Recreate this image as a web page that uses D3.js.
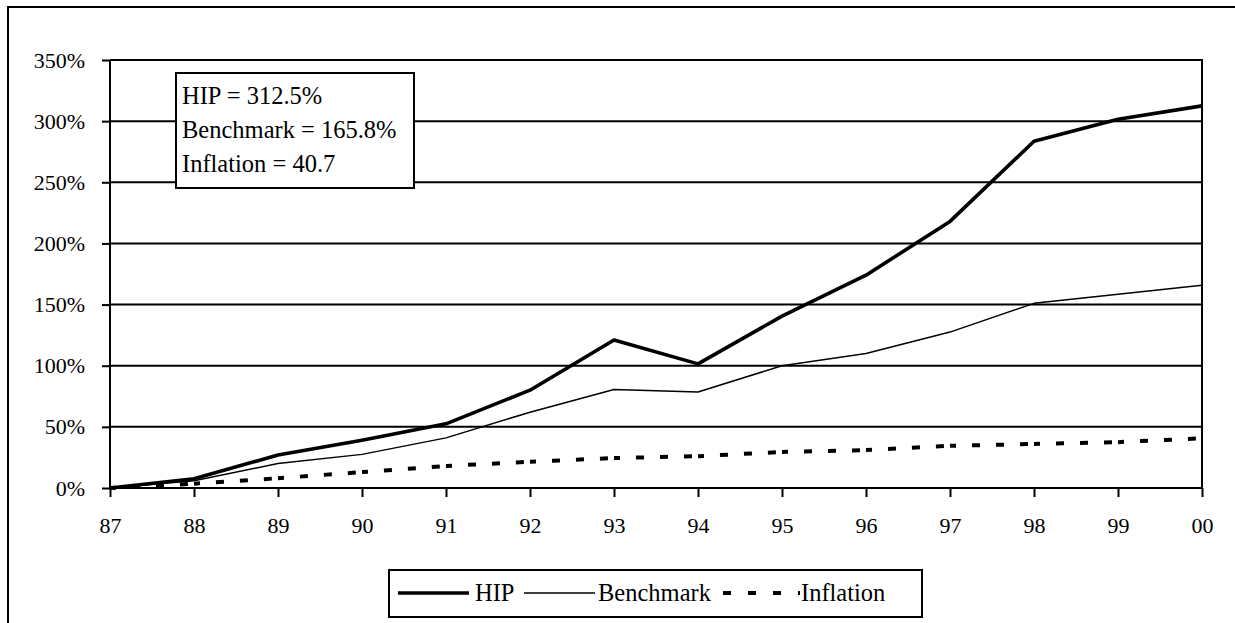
<!DOCTYPE html>
<html>
<head>
<meta charset="utf-8">
<script src="https://cdn.jsdelivr.net/npm/d3@7"></script>
<style>
  html body svg#chart text, html body svg#chart g text { font-family: "Liberation Serif", "Times New Roman", Tinos, serif !important; }
</style>
</head>
<body style="margin:0">
<svg id="chart" width="1235" height="623"></svg>
<script>
// ---- data ----
const years = ["87","88","89","90","91","92","93","94","95","96","97","98","99","00"];
const hip = [0, 7.5, 27, 39, 52.5, 80, 121, 101.5, 140.5, 174, 218, 283.5, 301.5, 312.5];
const benchmark = [0, 6, 20, 27.5, 41, 62, 80.5, 78.5, 100, 110, 127.5, 151, 158.5, 165.8];
const inflation = [0, 3.5, 8, 13, 18, 21.5, 24.5, 26, 29.5, 31, 34.5, 36, 37.5, 40.7];
const yTicks = [0, 50, 100, 150, 200, 250, 300, 350];
const seriesNames = ["HIP", "Benchmark", "Inflation"];
const boxLines = ["HIP = 312.5%", "Benchmark = 165.8%", "Inflation = 40.7"];

// ---- layout ----
const FONT = '"Liberation Serif", "Times New Roman", Tinos, serif';
const W = 1235, H = 623;
const plot = { left: 110, right: 1202, top: 60, bottom: 488 };
const svg = d3.select("#chart").attr("font-family", FONT);

svg.append("rect").attr("width", W).attr("height", H).attr("fill", "#fff");
// outer chart border (extends past the window on right/bottom)
svg.append("rect").attr("x", 8).attr("y", 7).attr("width", 1260).attr("height", 640)
  .attr("fill", "none").attr("stroke", "#000").attr("stroke-width", 2);

const x = d3.scalePoint().domain(years).range([plot.left, plot.right]);
const y = d3.scaleLinear().domain([0, 350]).range([plot.bottom, plot.top]);

// gridlines
svg.append("g").selectAll("line").data(yTicks).join("line")
  .attr("x1", plot.left).attr("x2", plot.right)
  .attr("y1", d => y(d)).attr("y2", d => y(d))
  .attr("stroke", "#000").attr("stroke-width", 2);
// right border of plot
svg.append("line").attr("x1", plot.right).attr("x2", plot.right)
  .attr("y1", plot.top - 1).attr("y2", plot.bottom)
  .attr("stroke", "#000").attr("stroke-width", 2);

// y axis
const yAxis = svg.append("g").attr("transform", `translate(${plot.left},0)`)
  .call(d3.axisLeft(y).tickValues(yTicks).tickSize(8).tickPadding(17)
    .tickFormat(d => d + "%"));
// x axis
const xAxis = svg.append("g").attr("transform", `translate(0,${plot.bottom})`)
  .call(d3.axisBottom(x).tickSize(9).tickPadding(20));
[yAxis, xAxis].forEach(g => {
  g.attr("font-family", FONT).attr("font-size", 22);
  g.select(".domain").attr("stroke", "#000").attr("stroke-width", 2);
  g.selectAll(".tick line").attr("stroke", "#000").attr("stroke-width", 2);
  g.selectAll(".tick text").attr("fill", "#000")
    .style("font-family", FONT, "important").style("font-size", "22px");
});
yAxis.select(".domain").attr("d", `M0,${plot.bottom}V${plot.top}`);
xAxis.select(".domain").attr("d", `M${plot.left},0H${plot.right}`);

// lines
const line = d3.line().x((d, i) => x(years[i])).y(d => y(d));
svg.append("path").datum(benchmark).attr("d", line)
  .attr("fill", "none").attr("stroke", "#000").attr("stroke-width", 1.5)
  .attr("stroke-linejoin", "round");
svg.append("path").datum(hip).attr("d", line)
  .attr("fill", "none").attr("stroke", "#000").attr("stroke-width", 3.6)
  .attr("stroke-linejoin", "round");
// inflation: dashes restart at every segment (as in source)
const segs = d3.pairs(inflation.map((v, i) => [years[i], v]));
const segLine = d3.line().x(d => x(d[0])).y(d => y(d[1]));
svg.append("g").selectAll("path").data(segs).join("path")
  .attr("d", segLine)
  .attr("fill", "none").attr("stroke", "#000").attr("stroke-width", 4)
  .attr("stroke-dasharray", "8,16").attr("stroke-dashoffset", 2);

// text box
const tb = { x: 176, y: 73, w: 238, h: 115 };
svg.append("rect").attr("x", tb.x).attr("y", tb.y).attr("width", tb.w).attr("height", tb.h)
  .attr("fill", "#fff").attr("stroke", "#000").attr("stroke-width", 2);
svg.append("g").selectAll("text").data(boxLines).join("text")
  .attr("x", tb.x + 6).attr("y", (d, i) => tb.y + 31 + i * 34)
  .style("font-family", FONT, "important").style("font-size", "24.5px")
  .attr("fill", "#000").text(d => d);

// legend
const lg = { x: 389, y: 570, w: 533, h: 47 };
svg.append("rect").attr("x", lg.x).attr("y", lg.y).attr("width", lg.w).attr("height", lg.h)
  .attr("fill", "#fff").attr("stroke", "#000").attr("stroke-width", 2);
const ly = lg.y + 23;
const legendItems = [
  { name: seriesNames[0], x1: 398, x2: 469, tx: 475, sw: 3.6, dash: null },
  { name: seriesNames[1], x1: 524, x2: 595, tx: 598, sw: 1.5, dash: null },
  { name: seriesNames[2], x1: 723, x2: 800, tx: 801, sw: 4, dash: "8,17" }
];
const li = svg.append("g").selectAll("g").data(legendItems).join("g");
li.append("line").attr("x1", d => d.x1).attr("x2", d => d.x2).attr("y1", ly).attr("y2", ly)
  .attr("stroke", "#000").attr("stroke-width", d => d.sw)
  .attr("stroke-dasharray", d => d.dash);
li.append("text").attr("x", d => d.tx).attr("y", ly + 8)
  .style("font-family", FONT, "important").style("font-size", "24.5px")
  .attr("fill", "#000").text(d => d.name);
</script>
</body>
</html>
